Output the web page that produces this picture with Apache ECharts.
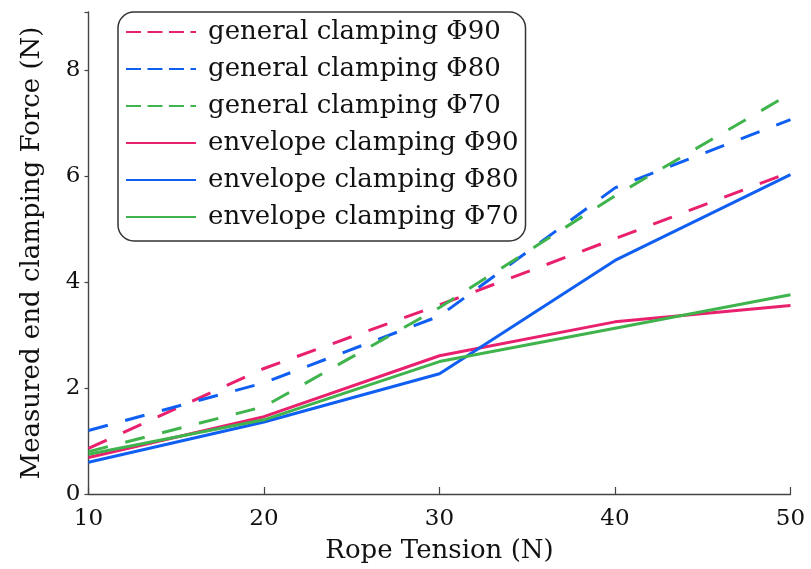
<!DOCTYPE html>
<html><head><meta charset="utf-8">
<script src="https://cdn.jsdelivr.net/npm/echarts@6/dist/echarts.min.js"></script>
<style>html,body{margin:0;padding:0;background:#fff}#c{width:811px;height:569px}</style>
</head><body><div id="c"></div>
<script>
var tension = [10, 20, 30, 40, 50];
var generalPhi90 = [0.86, 2.37, 3.57, 4.82, 6.08];
var generalPhi80 = [1.20, 2.10, 3.36, 5.78, 7.07];
var generalPhi70 = [0.80, 1.65, 3.52, 5.63, 7.56];
var envelopePhi90 = [0.69, 1.46, 2.61, 3.25, 3.56];
var envelopePhi70 = [0.75, 1.40, 2.50, 3.13, 3.76];
var envelopePhi80 = [0.60, 1.36, 2.27, 4.41, 6.03];
var names = ['general clamping Φ90','general clamping Φ80','general clamping Φ70','envelope clamping Φ90','envelope clamping Φ80','envelope clamping Φ70'];
var yTicks = [0, 2, 4, 6, 8];

var PINK = '#e8206e', BLUE = '#0f5ff2', GREEN = '#3fb34c';
var FONT = 'DejaVu Serif';
function pts(v){ return tension.map(function(x,i){ return [x, v[i]]; }); }
function ser(name, vals, color, dashed){
  return { name: name, type: 'line', data: pts(vals), symbol: 'none', showSymbol: false,
    lineStyle: { color: color, width: 3, type: dashed ? [20, 18] : 'solid', cap: 'butt' },
    itemStyle: { color: color }, z: dashed ? 3 : 2 };
}
var legendData = names.map(function(n, i){
  return i < 3 ? { name: n, lineStyle: { type: [15, 6.5] } } : { name: n };
});
var chart = echarts.init(document.getElementById('c'), null, {renderer: 'canvas'});
chart.setOption({
  animation: false,
  backgroundColor: '#fff',
  grid: { left: 88.5, right: 20.5, top: 12, bottom: 73.3, containLabel: false },
  legend: {
    orient: 'vertical', left: 118, top: 12,
    data: legendData,
    itemWidth: 70, itemHeight: 14, itemGap: 7,
    padding: [5, 7, 9, 7],
    borderColor: '#333', borderWidth: 1.5, borderRadius: 16,
    backgroundColor: '#fff',
    itemStyle: { opacity: 0 },
    textStyle: { fontFamily: FONT, fontSize: 26, color: '#111', lineHeight: 30, padding: [0, 0, 0, 7] }
  },
  xAxis: {
    type: 'value', min: 10, max: 50, interval: 10,
    name: 'Rope Tension (N)', nameLocation: 'middle', nameGap: 44,
    nameTextStyle: { fontFamily: FONT, fontSize: 26, color: '#111' },
    axisLine: { lineStyle: { color: '#444', width: 1.4 } },
    axisTick: { inside: true, length: 7, lineStyle: { color: '#444', width: 1.2 } },
    axisLabel: { fontFamily: FONT, fontSize: 23, color: '#111', margin: 14 },
    splitLine: { show: false }
  },
  yAxis: {
    type: 'value', min: 0, max: 9.1, interval: 2,
    name: 'Measured end clamping Force (N)', nameLocation: 'middle', nameGap: 43,
    nameTextStyle: { fontFamily: FONT, fontSize: 26, color: '#111' },
    axisLine: { show: true, lineStyle: { color: '#444', width: 1.4 } },
    axisTick: { show: true, inside: false, length: 4, lineStyle: { color: '#444', width: 1.2 } },
    axisLabel: { fontFamily: FONT, fontSize: 23, color: '#111', margin: 8,
      formatter: function(v){ return yTicks.indexOf(v) >= 0 ? String(v) : ''; } },
    splitLine: { show: false }
  },
  series: [
    ser(names[0], generalPhi90, PINK, true),
    ser(names[1], generalPhi80, BLUE, true),
    ser(names[2], generalPhi70, GREEN, true),
    ser(names[3], envelopePhi90, PINK, false),
    ser(names[4], envelopePhi80, BLUE, false),
    ser(names[5], envelopePhi70, GREEN, false)
  ]
});
</script></body></html>
